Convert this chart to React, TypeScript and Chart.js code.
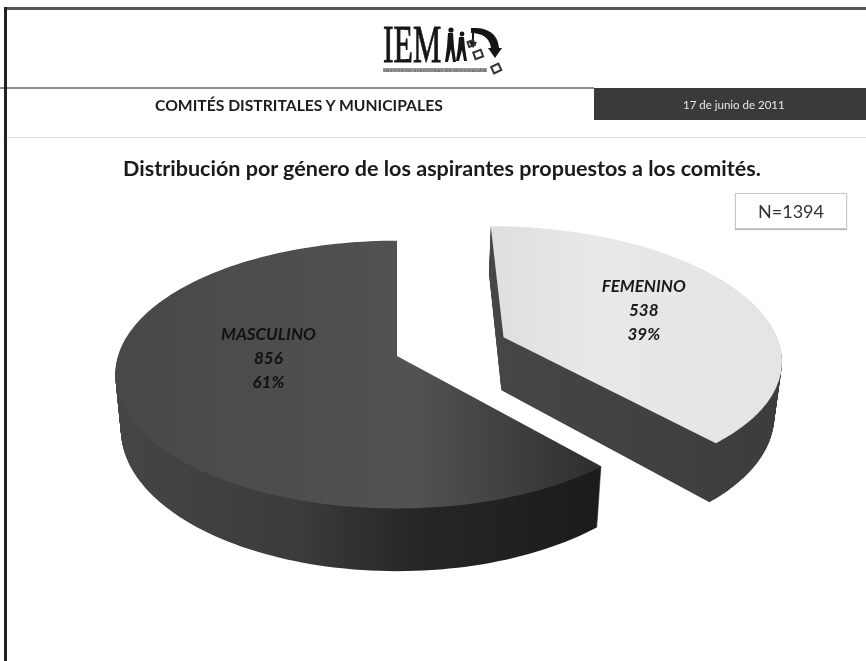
import React, { useEffect, useRef } from "react";
import { Chart, registerables } from "chart.js";

Chart.register(...registerables);

const categories = ["FEMENINO", "MASCULINO"];
const counts = [538, 856];
const percents = ["39%", "61%"];
const topColors = ["#e6e6e6", "#4b4b4b"];
const titleText = "Distribución por género de los aspirantes propuestos a los comités.";
const sectionText = "COMITÉS DISTRITALES Y MUNICIPALES";
const dateText = "17 de junio de 2011";
const totalText = "N=1394";

const PERSPECTIVE = 0.1386;
const STRETCH_X = 1.105;
const STRETCH_Y = 0.52;
const DEPTH = 0.214;
const SHRINK = 0.02;
const labelAngleFraction = [0.488, 0.58];
const labelRadius = [0.583, 0.46];
const labelColors = ["#1a1a1a", "#111111"];

function project(arc: any, u: number, v: number, t: number) {
  const R = arc.outerRadius;
  const w = 1 + PERSPECTIVE * v;
  return {
    x: arc.x + (R * STRETCH_X * u * (1 - SHRINK * t)) / w,
    y: arc.y - (R * STRETCH_Y * v) / w + (R * DEPTH * t) / w,
  };
}

function explode(arc: any) {
  const mid = (arc.startAngle + arc.endAngle) / 2 + Math.PI / 2;
  const ratio = (arc.options.offset || 0) / arc.outerRadius;
  return { ex: ratio * Math.sin(mid), ey: ratio * Math.cos(mid) };
}

function wedge(ctx: CanvasRenderingContext2D, arc: any, t: number) {
  const { ex, ey } = explode(arc);
  const a0 = arc.startAngle + Math.PI / 2;
  const a1 = arc.endAngle + Math.PI / 2;
  const n = 140;
  ctx.beginPath();
  const c = project(arc, ex, ey, t);
  ctx.moveTo(c.x, c.y);
  for (let i = 0; i <= n; i++) {
    const a = a0 + ((a1 - a0) * i) / n;
    const p = project(arc, ex + Math.sin(a), ey + Math.cos(a), t);
    ctx.lineTo(p.x, p.y);
  }
  ctx.closePath();
}

const pie3d = {
  id: "pie3d",
  beforeDatasetsDraw(chart: any) {
    const ctx: CanvasRenderingContext2D = chart.ctx;
    const arcs = chart.getDatasetMeta(0).data;
    const order = [1, 0];
    ctx.save();
    order.forEach((i) => {
      const arc = arcs[i];
      const wall = ctx.createLinearGradient(100, 0, 800, 0);
      if (i === 1) {
        wall.addColorStop(0, "#464646");
        wall.addColorStop(0.28, "#3c3c3c");
        wall.addColorStop(0.45, "#262626");
        wall.addColorStop(0.7, "#1c1c1c");
      } else {
        wall.addColorStop(0.5, "#474747");
        wall.addColorStop(1, "#3c3c3c");
      }
      ctx.fillStyle = wall;
      for (let s = 60; s > 0; s--) {
        wedge(ctx, arc, s / 60);
        ctx.fill();
      }
      const face = ctx.createLinearGradient(100, 0, 800, 0);
      if (i === 1) {
        face.addColorStop(0, "#474747");
        face.addColorStop(0.45, "#525252");
        face.addColorStop(0.7, "#303030");
      } else {
        face.addColorStop(0.55, "#dedede");
        face.addColorStop(0.7, "#e8e8e8");
        face.addColorStop(1, "#e4e4e4");
      }
      ctx.fillStyle = face;
      wedge(ctx, arc, 0);
      ctx.fill();
    });
    ctx.restore();
    return false;
  },
  afterDraw(chart: any) {
    const ctx: CanvasRenderingContext2D = chart.ctx;
    const arcs = chart.getDatasetMeta(0).data;
    ctx.save();
    ctx.textAlign = "center";
    ctx.textBaseline = "middle";
    ctx.font = 'italic bold 17px Lato, "Open Sans", sans-serif';
    arcs.forEach((arc: any, i: number) => {
      const { ex, ey } = explode(arc);
      const a =
        arc.startAngle + Math.PI / 2 + (arc.endAngle - arc.startAngle) * labelAngleFraction[i];
      const p = project(
        arc,
        ex + labelRadius[i] * Math.sin(a),
        ey + labelRadius[i] * Math.cos(a),
        0
      );
      ctx.fillStyle = labelColors[i];
      ctx.fillText(categories[i], p.x, p.y - 24);
      ctx.fillText(String(counts[i]), p.x, p.y);
      ctx.fillText(percents[i], p.x, p.y + 24);
    });
    ctx.restore();
  },
};

const abs = (s: React.CSSProperties): React.CSSProperties => ({
  position: "absolute",
  whiteSpace: "nowrap",
  ...s,
});

function Logo() {
  return (
    <svg
      style={abs({ left: 380, top: 22, width: 130, height: 56 })}
      viewBox="0 0 130 56"
    >
      <text
        x="0"
        y="0"
        transform="translate(3 40) scale(0.6 1)"
        fontFamily='"Liberation Serif", serif'
        fontSize="53"
        fill="#151515"
        stroke="#151515"
        strokeWidth="0.9"
      >
        IEM
      </text>
      <rect x="3" y="46" width="104" height="4" fill="#9a9a9a" />
      <text x="4" y="49.5" fontFamily="Lato" fontSize="4.4" fill="#555" textLength="102">
        INSTITUTO ELECTORAL DE MICHOACÁN
      </text>
      <g fill="#151515">
        <circle cx="71" cy="8" r="2.6" />
        <path d="M68 11h5l1 14 2 15h-3l-2-13-3 13h-3l2-15z" />
        <circle cx="82" cy="12" r="2.4" />
        <path d="M79 15h5l1 11 2 13h-3l-2-11-3 11h-3l2-13z" />
        <path d="M91 6c14-1 27 4 28 20l3 0-7 10-7-10 3 0c-1-10-9-15-20-15z" />
        <rect x="92" y="10" width="2" height="10" />
        <path d="M89 20h8l-4 6z" />
      </g>
      <g fill="none" stroke="#333" strokeWidth="2">
        <rect x="88" y="19" width="6" height="5" transform="rotate(-20 91 21)" />
        <rect x="94" y="29" width="8" height="7" transform="rotate(-20 98 32)" />
        <rect x="112" y="43" width="8" height="7" transform="rotate(-25 116 46)" />
      </g>
    </svg>
  );
}

export default function App() {
  const ref = useRef<HTMLCanvasElement>(null);
  useEffect(() => {
    const chart = new Chart(ref.current as HTMLCanvasElement, {
      type: "pie",
      data: {
        labels: categories,
        datasets: [
          {
            data: counts,
            backgroundColor: topColors,
            borderWidth: 0,
            offset: [105, 0],
          },
        ],
      },
      options: {
        responsive: false,
        animation: false,
        layout: { padding: { left: 0, right: 72, top: 51, bottom: 0 } },
        plugins: { legend: { display: false }, tooltip: { enabled: false }, title: { display: false } },
      },
      plugins: [pie3d],
    } as any);
    return () => chart.destroy();
  }, []);

  const font = 'Lato, "Open Sans", sans-serif';
  return (
    <div
      style={{
        position: "fixed",
        left: 0,
        top: 0,
        width: 866,
        height: 661,
        background: "#ffffff",
        overflow: "hidden",
        fontFamily: font,
      }}
    >
      <canvas ref={ref} width={866} height={661} style={abs({ left: 0, top: 0 })} />
      <div style={abs({ left: 0, top: 87, width: 594, height: 2, background: "#8c8c8c" })} />
      <div style={abs({ left: 7, top: 137, width: 859, height: 1, background: "#dddddd" })} />
      <div style={abs({ left: 4, top: 7, width: 862, height: 3, background: "#555" })} />
      <div style={abs({ left: 4, top: 7, width: 3, height: 654, background: "#222" })} />
      <Logo />
      <div style={abs({ left: 594, top: 88, width: 272, height: 32, background: "#3a3a3a" })} />
      <div
        style={abs({
          left: 155,
          top: 94,
          fontSize: 15.7,
          lineHeight: "22px",
          fontWeight: 700,
          color: "#1c1c1c",
        })}
      >
        {sectionText}
      </div>
      <div
        style={abs({
          left: 683,
          top: 97,
          fontSize: 11.5,
          lineHeight: "16px",
          color: "#e8e8e8",
        })}
      >
        {dateText}
      </div>
      <div
        style={abs({
          left: 123,
          top: 154,
          fontSize: 21.55,
          lineHeight: "28px",
          fontWeight: 700,
          color: "#1a1a1a",
        })}
      >
        {titleText}
      </div>
      <div
        style={abs({
          left: 735,
          top: 193,
          width: 112,
          height: 36,
          boxSizing: "border-box",
          border: "1px solid #c8c8c8",
          boxShadow: "0 1px 1px #bbbbbb",
          background: "#ffffff",
          textAlign: "center",
          lineHeight: "34px",
          fontSize: 18,
          color: "#333333",
        })}
      >
        {totalText}
      </div>
    </div>
  );
}
